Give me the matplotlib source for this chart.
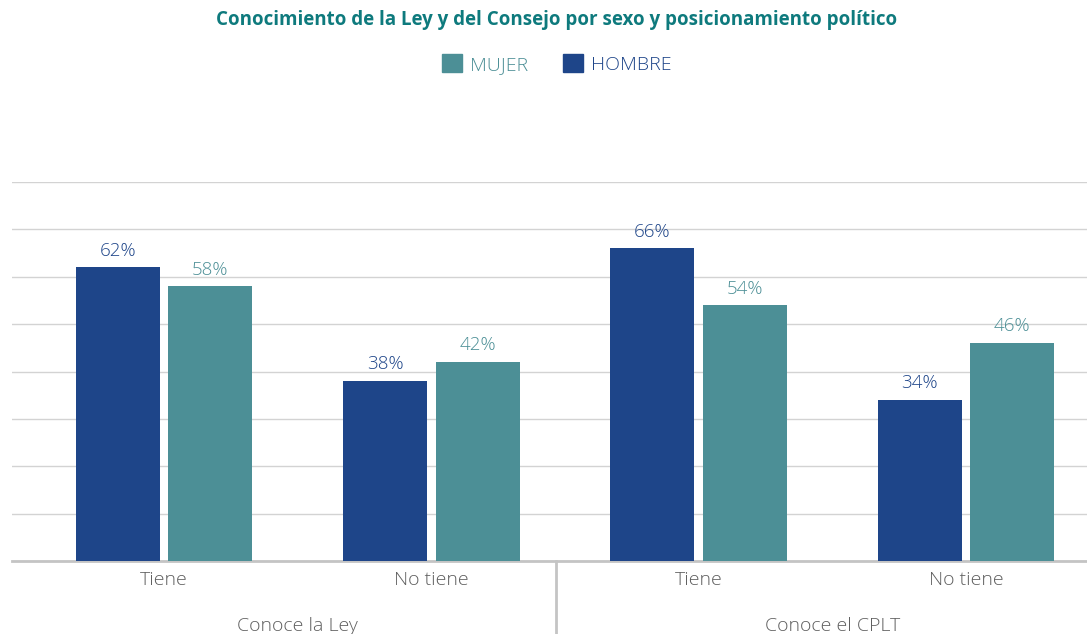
import numpy as np
import matplotlib
matplotlib.use("Agg")
from matplotlib import pyplot as plt
from matplotlib.patches import Patch

plt.rcParams['font.family'] = ['Open Sans', 'DejaVu Sans']

categories = ["Tiene", "No tiene", "Tiene", "No tiene"]
groups = ["Conoce la Ley", "Conoce el CPLT"]
hombre = [62, 38, 66, 34]
mujer = [58, 42, 54, 46]

c_hombre = "#1E4589"
c_mujer = "#4C8F96"
c_title = "#0E7A7D"
c_text = "#5F5F5F"

fig = plt.figure(figsize=(10.87, 6.34), dpi=100)
ax = fig.add_axes([12 / 1087, 73 / 634, 1 - 12 / 1087, 379 / 634])

x = np.arange(len(categories))
w = 0.315
off = 0.173
b1 = ax.bar(x - off, hombre, w, color=c_hombre, zorder=3)
b2 = ax.bar(x + off, mujer, w, color=c_mujer, zorder=3)

for bars, vals, col in ((b1, hombre, c_hombre), (b2, mujer, c_mujer)):
    for b, v in zip(bars, vals):
        ax.text(b.get_x() + b.get_width() / 2, v + 1.6, f"{v}%",
                ha="center", va="bottom", fontsize=13.5, color=col,
                fontweight="light")

ax.set_ylim(0, 80)
ax.set_xlim(-0.569, 3.453)
ax.set_yticks(np.arange(0, 81, 10))
ax.set_yticklabels([])
ax.tick_params(axis="y", length=0)
ax.grid(axis="y", color="#D3D3D3", linewidth=1, zorder=0)
for s in ("top", "right", "left"):
    ax.spines[s].set_visible(False)
ax.spines["bottom"].set_color("#C4C4C4")
ax.spines["bottom"].set_linewidth(2)

ax.set_xticks(x)
ax.set_xticklabels(categories, fontsize=14, color=c_text, fontweight="light")
ax.tick_params(axis="x", length=0, pad=7)

# group labels and separator
for i, g in enumerate(groups):
    ax.text(0.5 + 2 * i, -13.8, g, ha="center", va="center",
            fontsize=14, color=c_text, clip_on=False, fontweight="light")
ax.plot([1.468, 1.468], [0, -20], color="#C4C4C4", linewidth=2,
        clip_on=False, transform=ax.transData)

fig.text(0.512, 1 - 20 / 634, "Conocimiento de la Ley y del Consejo por sexo y posicionamiento político",
         ha="center", va="center", fontsize=13.5, fontweight="bold", color=c_title)

handles = [Patch(color=c_mujer), Patch(color=c_hombre)]
leg = fig.legend(handles, ["MUJER", "HOMBRE"], loc="center",
                 bbox_to_anchor=(0.512, 1 - 64 / 634), ncol=2, frameon=False,
                 prop={"size": 14, "weight": "light"},
                 handlelength=1.05, handleheight=1.05,
                 handletextpad=0.4, columnspacing=1.8)
for t, c in zip(leg.get_texts(), (c_mujer, c_hombre)):
    t.set_color(c)

fig.savefig("out.png", dpi=100)
